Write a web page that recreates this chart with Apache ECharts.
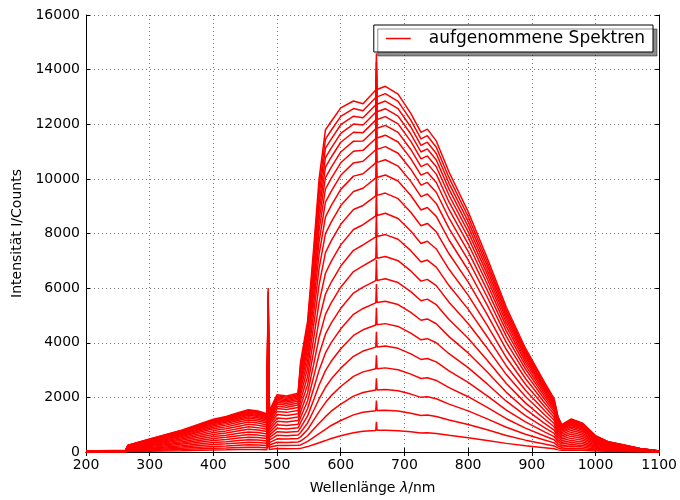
<!DOCTYPE html>
<html>
<head>
<meta charset="utf-8">
<script src="https://cdn.jsdelivr.net/npm/echarts@6/dist/echarts.min.js"></script>
<style>
    html, body { margin: 0; padding: 0; background: #fff; }
    #chart { width: 680px; height: 500px; }
</style>
</head>
<body>
<div id="chart"></div>
<script>
// Wellenlängen (nm), gemeinsame Stützstellen aller Spektren
const wavelengths = [200, 262, 266, 300, 350, 400, 420, 440, 455, 470, 484, 486, 488, 500, 515, 533, 537, 548, 558, 566, 576, 585, 600, 620, 635, 655, 656, 657, 670, 690, 710, 726, 736, 750, 770, 800, 830, 860, 890, 920, 935, 941, 947, 962, 980, 1000, 1020, 1040, 1070, 1100];

// aufgenommene Spektren, vom schwächsten zum stärksten (Counts)
const spec01 = [2, 4, 15, 29, 48, 72, 78, 87, 93, 90, 84, 360, 90, 125, 122, 128, 132, 198, 275, 337, 418, 494, 594, 708, 761, 791, 1105, 792, 800, 782, 740, 698, 706, 680, 612, 525, 424, 316, 227, 152, 116, 78, 60, 72, 63, 36, 23, 17, 8, 2];
const spec02 = [5, 7, 29, 55, 91, 137, 149, 166, 177, 171, 160, 686, 171, 240, 234, 246, 260, 388, 546, 673, 832, 971, 1154, 1360, 1457, 1514, 1886, 1517, 1530, 1497, 1417, 1337, 1351, 1302, 1172, 1006, 812, 606, 434, 291, 223, 149, 114, 138, 120, 69, 43, 32, 15, 5];
const spec03 = [7, 10, 43, 82, 137, 205, 222, 248, 265, 257, 239, 1026, 257, 359, 351, 368, 400, 596, 849, 1052, 1294, 1493, 1754, 2047, 2180, 2266, 2699, 2269, 2290, 2240, 2120, 2001, 2021, 1948, 1753, 1505, 1214, 906, 650, 436, 333, 222, 171, 207, 180, 103, 65, 48, 22, 7];
const spec04 = [9, 14, 58, 110, 184, 276, 299, 334, 357, 345, 322, 1380, 345, 483, 472, 495, 554, 823, 1185, 1478, 1810, 2063, 2398, 2767, 2933, 3048, 3544, 3052, 3080, 3013, 2852, 2691, 2719, 2620, 2358, 2024, 1633, 1219, 874, 587, 449, 299, 230, 278, 242, 138, 87, 64, 30, 9];
const spec05 = [12, 17, 72, 139, 232, 348, 377, 420, 449, 435, 406, 1739, 435, 609, 594, 623, 717, 1064, 1548, 1942, 2369, 2670, 3070, 3504, 3695, 3840, 4400, 3846, 3880, 3796, 3594, 3391, 3425, 3301, 2970, 2550, 2058, 1536, 1101, 739, 565, 377, 290, 351, 304, 174, 110, 81, 38, 12];
const spec06 = [14, 21, 88, 168, 281, 421, 456, 509, 544, 527, 491, 2106, 527, 737, 720, 755, 894, 1323, 1943, 2452, 2978, 3321, 3779, 4268, 4475, 4651, 5277, 4658, 4700, 4598, 4352, 4107, 4149, 3998, 3598, 3089, 2492, 1860, 1334, 895, 684, 456, 351, 425, 369, 211, 133, 98, 46, 14];
const spec07 = [16, 25, 103, 198, 330, 495, 536, 598, 639, 618, 577, 2473, 618, 866, 845, 886, 1079, 1593, 2363, 2997, 3627, 4004, 4510, 5040, 5256, 5462, 6154, 5470, 5520, 5400, 5111, 4823, 4872, 4695, 4225, 3627, 2927, 2185, 1566, 1051, 804, 536, 412, 499, 433, 247, 157, 115, 54, 16];
const spec08 = [19, 28, 118, 227, 379, 568, 616, 687, 734, 710, 663, 2841, 710, 994, 971, 1018, 1272, 1876, 2807, 3578, 4314, 4716, 5262, 5819, 6037, 6274, 7031, 6283, 6340, 6203, 5871, 5540, 5597, 5393, 4853, 4167, 3362, 2510, 1799, 1207, 923, 616, 474, 573, 497, 284, 180, 133, 62, 19];
const spec09 = [21, 32, 134, 257, 428, 642, 695, 775, 829, 802, 749, 3208, 802, 1123, 1096, 1150, 1475, 2170, 3274, 4192, 5038, 5460, 6034, 6607, 6817, 7085, 7908, 7096, 7160, 7005, 6630, 6256, 6320, 6090, 5481, 4705, 3796, 2834, 2032, 1364, 1043, 695, 535, 647, 561, 321, 203, 150, 70, 21];
const spec10 = [24, 36, 149, 285, 476, 713, 773, 862, 921, 892, 832, 3567, 892, 1248, 1219, 1278, 1680, 2469, 3753, 4826, 5783, 6214, 6809, 7384, 7580, 7877, 8764, 7889, 7960, 7788, 7372, 6956, 7027, 6771, 6094, 5232, 4221, 3151, 2259, 1516, 1159, 773, 595, 719, 624, 357, 226, 166, 77, 24];
const spec11 = [26, 39, 163, 313, 522, 783, 849, 946, 1012, 979, 914, 3916, 979, 1371, 1338, 1403, 1889, 2771, 4242, 5476, 6544, 6978, 7584, 8147, 8322, 8648, 9597, 8662, 8740, 8550, 8093, 7637, 7715, 7434, 6690, 5744, 4634, 3459, 2480, 1664, 1273, 849, 653, 790, 685, 392, 248, 183, 85, 26];
const spec12 = [28, 42, 177, 340, 566, 850, 920, 1027, 1097, 1062, 991, 4248, 1062, 1487, 1451, 1522, 2094, 3067, 4726, 6121, 7297, 7728, 8337, 8879, 9027, 9381, 10389, 9395, 9480, 9275, 8779, 8284, 8369, 8064, 7257, 6230, 5027, 3752, 2690, 1805, 1381, 920, 708, 857, 743, 425, 269, 198, 92, 28];
const spec13 = [30, 45, 189, 364, 606, 909, 984, 1098, 1174, 1136, 1060, 4544, 1136, 1590, 1552, 1628, 2283, 3340, 5173, 6721, 7995, 8418, 9023, 9538, 9656, 10034, 11095, 10049, 10140, 9921, 9391, 8860, 8951, 8626, 7762, 6664, 5377, 4014, 2878, 1931, 1477, 984, 757, 916, 795, 454, 288, 212, 98, 30];
const spec14 = [32, 48, 200, 384, 639, 959, 1039, 1159, 1239, 1199, 1119, 4795, 1199, 1678, 1638, 1718, 2447, 3577, 5566, 7247, 8608, 9019, 9615, 10100, 10189, 10588, 11694, 10604, 10700, 10468, 9909, 9349, 9445, 9102, 8191, 7032, 5674, 4235, 3037, 2038, 1558, 1039, 799, 967, 839, 479, 304, 224, 104, 32];
const spec15 = [33, 50, 209, 401, 668, 1002, 1086, 1211, 1294, 1253, 1169, 5010, 1253, 1754, 1712, 1795, 2592, 3785, 5911, 7711, 9146, 9545, 10131, 10585, 10646, 11064, 12208, 11080, 11180, 10939, 10354, 9770, 9870, 9511, 8559, 7348, 5929, 4426, 3173, 2129, 1628, 1086, 835, 1010, 877, 501, 317, 234, 109, 33];
const spec16 = [35, 52, 217, 416, 693, 1040, 1126, 1256, 1343, 1299, 1213, 5198, 1299, 1819, 1776, 1863, 2720, 3970, 6220, 8127, 9629, 10015, 10588, 11012, 11045, 11478, 12656, 11496, 11600, 11349, 10742, 10136, 10240, 9867, 8880, 7623, 6151, 4591, 3292, 2209, 1689, 1126, 866, 1048, 910, 520, 329, 243, 113, 35];
const spec17 = [36, 54, 223, 429, 715, 1072, 1161, 1295, 1384, 1340, 1250, 5359, 1340, 1876, 1831, 1920, 2832, 4131, 6489, 8490, 10050, 10423, 10985, 11380, 11388, 11835, 13042, 11853, 11960, 11701, 11076, 10450, 10558, 10174, 9155, 7860, 6342, 4734, 3394, 2278, 1742, 1161, 893, 1081, 938, 536, 339, 250, 116, 36];
const spec18 = [37, 55, 229, 440, 734, 1101, 1192, 1330, 1422, 1376, 1284, 5503, 1376, 1926, 1880, 1972, 2934, 4276, 6733, 8819, 10431, 10792, 11341, 11708, 11693, 12152, 13384, 12171, 12280, 12014, 11372, 10730, 10840, 10446, 9400, 8070, 6511, 4861, 3485, 2339, 1788, 1192, 917, 1110, 963, 550, 348, 257, 119, 37];
const spec19 = [38, 56, 235, 451, 751, 1127, 1220, 1361, 1455, 1408, 1314, 5633, 1408, 1971, 1925, 2018, 3026, 4410, 6956, 9123, 10781, 11129, 11666, 12006, 11970, 12439, 13695, 12458, 12570, 12298, 11641, 10984, 11097, 10693, 9623, 8261, 6665, 4976, 3567, 2394, 1831, 1220, 939, 1136, 986, 563, 357, 263, 122, 38];
const spec20 = [38, 58, 240, 461, 768, 1152, 1248, 1392, 1488, 1440, 1344, 5758, 1440, 2015, 1967, 2063, 3116, 4539, 7175, 9419, 11123, 11458, 11983, 12295, 12236, 12716, 13994, 12735, 12850, 12572, 11900, 11228, 11344, 10931, 9837, 8445, 6814, 5086, 3647, 2447, 1871, 1248, 960, 1161, 1008, 576, 365, 269, 125, 38];
const spec21 = [39, 59, 245, 470, 784, 1176, 1274, 1421, 1519, 1470, 1372, 5879, 1470, 2058, 2009, 2107, 3205, 4665, 7389, 9709, 11458, 11780, 12290, 12574, 12492, 12982, 14282, 13002, 13120, 12835, 12150, 11464, 11581, 11160, 10043, 8622, 6957, 5193, 3723, 2498, 1911, 1274, 980, 1186, 1029, 588, 372, 274, 127, 39];
const spec22 = [40, 60, 250, 480, 800, 1200, 1300, 1450, 1550, 1500, 1400, 6000, 1500, 2100, 2050, 2150, 3300, 4800, 7600, 10000, 11800, 12100, 12600, 12850, 12750, 13250, 14600, 13270, 13390, 13100, 12400, 11700, 11820, 11390, 10250, 8800, 7100, 5300, 3800, 2550, 1950, 1300, 1000, 1210, 1050, 600, 380, 280, 130, 40];

const spectra = [spec01, spec02, spec03, spec04, spec05, spec06, spec07, spec08, spec09, spec10, spec11,
    spec12, spec13, spec14, spec15, spec16, spec17, spec18, spec19, spec20, spec21, spec22];

const seriesName = 'aufgenommene Spektren';
const font = 'DejaVu Sans';

const myChart = echarts.init(document.getElementById('chart'), null, { renderer: 'canvas' });

// alle Spektren teilen sich einen Legendeneintrag
const series = spectra.map((values) => ({
    name: seriesName,
    type: 'line',
    showSymbol: false,
    silent: true,
    data: wavelengths.map((w, k) => [w, values[k]]),
    lineStyle: { color: '#ff0000', width: 1.5 },
    itemStyle: { color: '#ff0000' },
}));

const gridLine = { show: true, lineStyle: { color: '#777', width: 1, type: [1, 3] } };
const tick = { show: true, inside: true, length: 4, lineStyle: { color: '#000' } };
const line = { show: true, lineStyle: { color: '#000', width: 1 } };
const plain = (v) => String(v); // keine Tausendertrennzeichen

let option = {
    animation: false,
    backgroundColor: '#fff',
    grid: { left: 86, right: 20, top: 15, bottom: 45, containLabel: false },
    legend: {
        data: [seriesName],
        right: 27,
        top: 25,
        padding: [5, 8, 5, 12],
        icon: 'rect',
        itemWidth: 25,
        itemHeight: 1.5,
        backgroundColor: '#fff',
        borderColor: '#000',
        borderWidth: 1,
        borderRadius: 0,
        shadowColor: 'rgba(0,0,0,0.45)',
        shadowOffsetX: 4,
        shadowOffsetY: 4,
        shadowBlur: 0,
        itemStyle: { color: '#ff0000' },
        textStyle: { fontFamily: font, fontSize: 17, color: '#000', padding: [0, 0, 0, 13] },
    },
    xAxis: [{
        type: 'value',
        min: 200,
        max: 1100,
        interval: 100,
        name: 'Wellenlänge {i|λ}/nm',
        nameLocation: 'middle',
        nameGap: 29,
        nameTextStyle: { fontFamily: font, fontSize: 14, color: '#000', rich: { i: { fontFamily: font, fontSize: 14, fontStyle: 'italic', color: '#000' } } },
        axisLine: line,
        axisTick: tick,
        axisLabel: { fontFamily: font, fontSize: 14, color: '#000', margin: 6, formatter: plain },
        splitLine: gridLine,
    }, {
        type: 'value',
        position: 'top',
        min: 200,
        max: 1100,
        interval: 100,
        axisLine: line,
        axisTick: tick,
        axisLabel: { show: false },
        splitLine: { show: false },
    }],
    yAxis: [{
        type: 'value',
        min: 0,
        max: 16000,
        interval: 2000,
        name: 'Intensität I/Counts',
        nameLocation: 'middle',
        nameGap: 54,
        nameTextStyle: { fontFamily: font, fontSize: 14, color: '#000' },
        axisLine: line,
        axisTick: tick,
        axisLabel: { fontFamily: font, fontSize: 14, color: '#000', margin: 6, formatter: plain },
        splitLine: gridLine,
    }, {
        type: 'value',
        position: 'right',
        min: 0,
        max: 16000,
        interval: 2000,
        axisLine: line,
        axisTick: tick,
        axisLabel: { show: false },
        splitLine: { show: false },
    }],
    series: series,
};

myChart.setOption(option);
</script>
</body>
</html>
